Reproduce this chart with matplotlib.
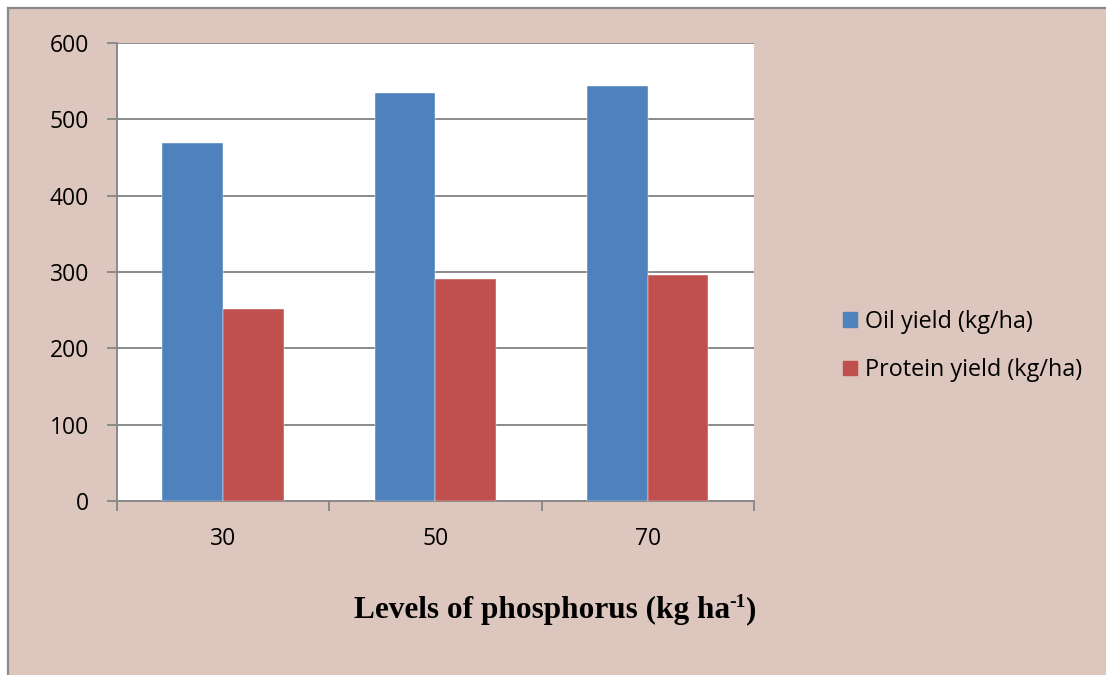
import matplotlib.pyplot as plt
import matplotlib.patches as mpatches
from matplotlib.lines import Line2D
import numpy as np

categories = ['30', '50', '70']
oil_yield = [469, 534, 544]
protein_yield = [252, 291, 296]
series_labels = ['Oil yield (kg/ha)', 'Protein yield (kg/ha)']
y_ticks = [0, 100, 200, 300, 400, 500, 600]

plt.rcParams['font.family'] = ['Open Sans', 'DejaVu Sans']

bg = '#DDC6BD'
grid_col = '#8A8A8A'
colors = ['#4F81BD', '#C0504D']

W, H = 1106, 675
fig = plt.figure(figsize=(W/100, H/100), dpi=100, facecolor='white')

# pink chart area with grey border on top and left
fig.patches.append(mpatches.Rectangle((8/W, 0), 1, 1 - 8/H, transform=fig.transFigure,
                                      facecolor=bg, edgecolor='none', zorder=-2))
fig.lines.append(Line2D([8/W, 1], [1 - 8/H, 1 - 8/H], transform=fig.transFigure,
                        color=grid_col, linewidth=1.6, zorder=-1))
fig.lines.append(Line2D([8/W, 8/W], [0, 1 - 8/H], transform=fig.transFigure,
                        color=grid_col, linewidth=1.6, zorder=-1))

ax = fig.add_axes([117/W, 1 - 501/H, (754 - 117)/W, (501 - 43)/H])
ax.set_facecolor('white')

x = np.arange(len(categories))
w = 1 / 3.5
ax.bar(x - w/2, oil_yield, width=w, color=colors[0], edgecolor='white', linewidth=0.3, zorder=3, label=series_labels[0])
ax.bar(x + w/2, protein_yield, width=w, color=colors[1], edgecolor='white', linewidth=0.3, zorder=3, label=series_labels[1])

ax.set_xlim(-0.5, len(categories) - 0.5)
ax.set_ylim(0, 600)
ax.set_yticks(y_ticks)
ax.yaxis.grid(True, color=grid_col, linewidth=1.4, zorder=1)
ax.set_axisbelow(True)

# category ticks at the boundaries, labels at the centers
ax.set_xticks(np.arange(-0.5, len(categories)))
ax.set_xticklabels([])
ax.set_xticks(x, minor=True)
ax.set_xticklabels(categories, minor=True)
ax.tick_params(axis='x', which='major', length=7, width=1.4, color=grid_col, direction='out')
ax.tick_params(axis='x', which='minor', length=0, pad=19, labelsize=16.5)
ax.tick_params(axis='y', length=7, width=1.4, color=grid_col, direction='out', pad=13, labelsize=16.5)

for s in ['top', 'right']:
    ax.spines[s].set_visible(False)
for s in ['left', 'bottom']:
    ax.spines[s].set_color(grid_col)
    ax.spines[s].set_linewidth(1.4)

# x label with a hyphen superscript, built from pieces
fig.canvas.draw()
r = fig.canvas.get_renderer()
lab_font = dict(family='Liberation Serif', fontweight='bold', color='black')
t1 = fig.text(0, 0, 'Levels of phosphorus (kg ha', fontsize=22.5, **lab_font)
t2 = fig.text(0, 0, '-1', fontsize=14, **lab_font)
t3 = fig.text(0, 0, ')', fontsize=22.5, **lab_font)
w1 = t1.get_window_extent(r).width
w2 = t2.get_window_extent(r).width
w3 = t3.get_window_extent(r).width
x0 = 555 - (w1 + w2 + w3) / 2
base = H - 618
t1.set_position((x0/W, base/H))
t2.set_position(((x0 + w1)/W, (base + 11)/H))
t3.set_position(((x0 + w1 + w2)/W, base/H))

handles = [mpatches.Patch(color=c) for c in colors]
fig.legend(handles, series_labels, loc='center left', bbox_to_anchor=(831/W, 1 - 346/H),
           frameon=False, fontsize=16.8, handlelength=0.6, handleheight=0.6, handletextpad=0.35,
           labelspacing=1.05, borderpad=0)

fig.savefig('out.png', dpi=100, facecolor='white')
